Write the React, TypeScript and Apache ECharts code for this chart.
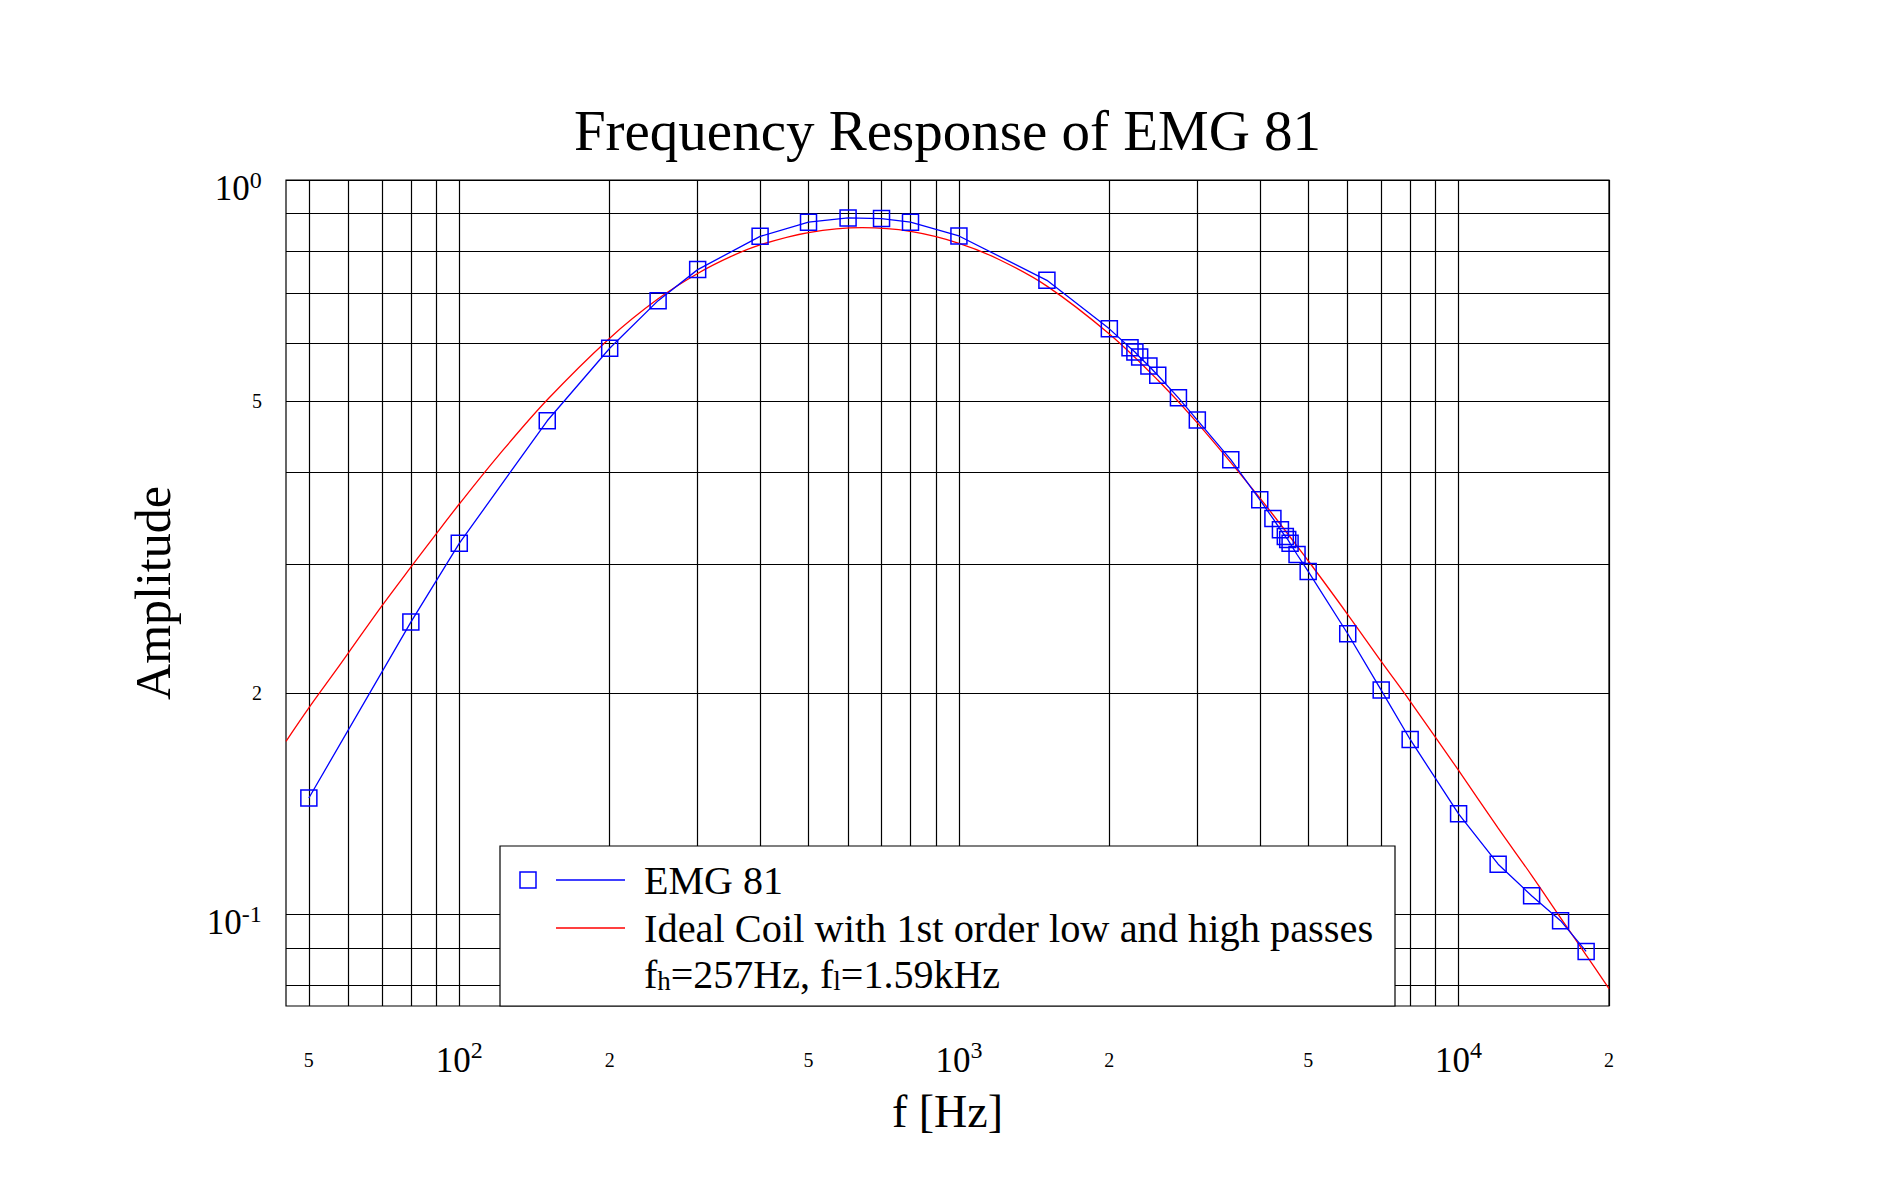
import { useEffect, useRef } from 'react';
import * as echarts from 'echarts';

// ---- data ----
const emgFreq = [50, 80, 100, 150, 200, 250, 300, 400, 500, 600, 700, 800, 1000, 1500, 2000, 2200, 2250, 2300, 2400, 2500, 2750, 3000, 3500, 4000, 4250, 4400, 4500, 4550, 4600, 4750, 5000, 6000, 7000, 8000, 10000, 12000, 14000, 16000, 18000];
const emgAmp = [0.144, 0.25, 0.32, 0.47, 0.59, 0.685, 0.755, 0.838, 0.876, 0.888, 0.886, 0.876, 0.839, 0.73, 0.627, 0.591, 0.583, 0.574, 0.558, 0.542, 0.505, 0.471, 0.416, 0.367, 0.346, 0.334, 0.327, 0.324, 0.32, 0.309, 0.293, 0.241, 0.202, 0.173, 0.137, 0.117, 0.106, 0.098, 0.089];

const coilFreq = [45, 50, 55, 60, 70, 80, 90, 100, 120, 150, 200, 250, 300, 350, 400, 500, 640, 800, 1000, 1200, 1500, 2000, 2500, 3000, 4000, 5000, 6000, 7000, 8000, 10000, 12000, 14000, 16000, 18000, 20000];
const coilAmp = [0.172, 0.191, 0.209, 0.227, 0.263, 0.297, 0.330, 0.362, 0.422, 0.502, 0.609, 0.689, 0.746, 0.787, 0.816, 0.848, 0.861, 0.851, 0.820, 0.780, 0.717, 0.617, 0.534, 0.467, 0.369, 0.303, 0.256, 0.221, 0.195, 0.157, 0.131, 0.113, 0.0989, 0.088, 0.0792];

const xGridValues = [50, 60, 70, 80, 90, 100, 200, 300, 400, 500, 600, 700, 800, 900, 1000, 2000, 3000, 4000, 5000, 6000, 7000, 8000, 9000, 10000, 20000];
const xLabelValues = [50, 100, 200, 500, 1000, 2000, 5000, 10000, 20000];
const yGridValues = [0.08, 0.09, 0.1, 0.2, 0.3, 0.4, 0.5, 0.6, 0.7, 0.8, 0.9, 1];
const yLabelValues = [0.1, 0.2, 0.5, 1];

const titleText = 'Frequency Response of EMG 81';
const xName = 'f [Hz]';
const yName = 'Amplitude';
const seriesNames = ['EMG 81', 'Ideal Coil with 1st order low and high passes'];
const legendNote = 'f{sub|h}=257Hz, f{sub|l}=1.59kHz';

const FONT = '"Liberation Serif", "DejaVu Serif", serif';

function makeFmt(big: string, sup: string, spacer: boolean) {
  return (v: number): string => {
    const lg = Math.log10(v);
    const e = Math.round(lg);
    if (Math.abs(lg - e) < 1e-6) return `{${big}|10}{${sup}|${e}}` + (spacer ? '{sp| }' : '');
    const m = Math.round(v / Math.pow(10, Math.floor(lg + 1e-9)));
    return `{small|${m}}`;
  };
}

const labelRich = {
  big: { fontSize: 35, lineHeight: 44, fontFamily: FONT, color: '#000' },
  sup: { fontSize: 24, lineHeight: 20, verticalAlign: 'top', fontFamily: FONT, color: '#000' },
  bigY: { fontSize: 35, lineHeight: 36, verticalAlign: 'bottom', fontFamily: FONT, color: '#000' },
  supY: { fontSize: 24, lineHeight: 20, verticalAlign: 'middle', fontFamily: FONT, color: '#000' },
  sp: { fontSize: 1, lineHeight: 52, fontFamily: FONT, color: '#000' },
  small: { fontSize: 20, lineHeight: 44, fontFamily: FONT, color: '#000' },
};

export default function App() {
  const ref = useRef<HTMLDivElement>(null);

  useEffect(() => {
    document.body.style.margin = '0';
    const chart = echarts.init(ref.current!, null, { renderer: 'svg' });
    const gridLine = { show: true, lineStyle: { color: '#000', width: 1.2 } };
    const Z = 100;
    chart.setOption({
      animation: false,
      backgroundColor: '#fff',
      textStyle: { fontFamily: FONT, color: '#000' },
      title: {
        text: titleText,
        left: 'center',
        top: 97,
        textStyle: { fontFamily: FONT, fontSize: 57, fontWeight: 'normal', color: '#000' },
      },
      grid: {
        left: 286,
        right: 286,
        top: 180,
        bottom: 181,
        show: true,
        borderColor: '#000',
        borderWidth: 1.2,
        backgroundColor: 'transparent',
      },
      xAxis: {
        type: 'log',
        logBase: 10,
        min: 45,
        max: 20000,
        axisLine: { show: false },
        axisTick: { show: false, customValues: xGridValues },
        splitLine: gridLine,
        minorTick: { show: false },
        minorSplitLine: { show: false },
        axisLabel: {
          customValues: xLabelValues,
          formatter: makeFmt('big', 'sup', false),
          margin: 32,
          rich: labelRich,
        },
        name: xName,
        nameLocation: 'middle',
        nameGap: 82,
        nameTextStyle: { fontFamily: FONT, fontSize: 46, color: '#000' },
      },
      yAxis: {
        type: 'log',
        logBase: 10,
        min: 0.075,
        max: 1,
        axisLine: { show: false },
        axisTick: { show: false, customValues: yGridValues },
        splitLine: gridLine,
        minorTick: { show: false },
        minorSplitLine: { show: false },
        axisLabel: {
          customValues: yLabelValues,
          formatter: makeFmt('bigY', 'supY', true),
          margin: 24,
          rich: labelRich,
        },
        name: yName,
        nameLocation: 'middle',
        nameGap: 108,
        nameRotate: 90,
        nameTextStyle: { fontFamily: FONT, fontSize: 50, color: '#000' },
      },
      series: [
        {
          type: 'line',
          name: seriesNames[1],
          data: coilFreq.map((f, i) => [f, coilAmp[i]]),
          smooth: 0.35,
          symbol: 'none',
          showSymbol: false,
          lineStyle: { color: '#ff0000', width: 1.3 },
          itemStyle: { color: '#ff0000' },
          z: 3,
        },
        {
          type: 'line',
          name: seriesNames[0],
          data: emgFreq.map((f, i) => [f, emgAmp[i]]),
          symbol: 'rect',
          symbolSize: 16,
          showSymbol: true,
          lineStyle: { color: '#0000ff', width: 1.3 },
          itemStyle: { color: 'rgba(0,0,0,0)', borderColor: '#0000ff', borderWidth: 1.5 },
          z: 4,
        },
      ],
      graphic: [
        {
          type: 'rect',
          z: Z,
          shape: { x: 500, y: 846, width: 895, height: 160 },
          style: { fill: '#fff', stroke: '#000', lineWidth: 1.2 },
        },
        {
          type: 'rect',
          z: Z + 1,
          shape: { x: 520, y: 872, width: 16, height: 16 },
          style: { fill: 'none', stroke: '#0000ff', lineWidth: 1.5 },
        },
        {
          type: 'line',
          z: Z + 1,
          shape: { x1: 556, y1: 880, x2: 625, y2: 880 },
          style: { stroke: '#0000ff', lineWidth: 1.3 },
        },
        {
          type: 'line',
          z: Z + 1,
          shape: { x1: 556, y1: 928, x2: 625, y2: 928 },
          style: { stroke: '#ff0000', lineWidth: 1.3 },
        },
        {
          type: 'text',
          z: Z + 1,
          x: 644,
          y: 880,
          style: { text: seriesNames[0], fontSize: 40, fontFamily: FONT, fill: '#000', align: 'left', verticalAlign: 'middle' },
        },
        {
          type: 'text',
          z: Z + 1,
          x: 644,
          y: 928,
          style: { text: seriesNames[1], fontSize: 40.4, fontFamily: FONT, fill: '#000', align: 'left', verticalAlign: 'middle' },
        },
        {
          type: 'text',
          z: Z + 1,
          x: 644,
          y: 974,
          style: {
            text: legendNote,
            fontSize: 40,
            fontFamily: FONT,
            fill: '#000',
            align: 'left',
            verticalAlign: 'middle',
            rich: {
              sub: { fontSize: 27, lineHeight: 24, verticalAlign: 'bottom', fontFamily: FONT, fill: '#000' },
            },
          },
        },
      ],
    });
    return () => chart.dispose();
  }, []);

  return <div ref={ref} style={{ width: 1895, height: 1187 }} />;
}
